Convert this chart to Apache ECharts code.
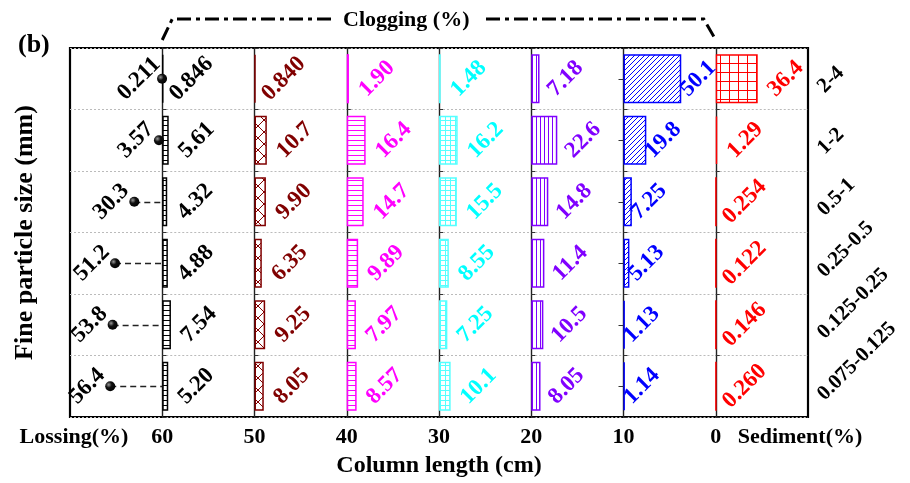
<!DOCTYPE html>
<html>
<head>
<meta charset="utf-8">
<script src="https://cdn.jsdelivr.net/npm/echarts@6/dist/echarts.min.js"></script>
<style>
  html, body { margin: 0; padding: 0; background: #fff; }
  #chart { width: 910px; height: 483px; }
</style>
</head>
<body>
<div id="chart"></div>
<script>
// ===== 数据 =====
const sizes = ['2-4', '1-2', '0.5-1', '0.25-0.5', '0.125-0.25', '0.075-0.125'];
const lossing = [0.211, 3.57, 30.3, 51.2, 53.8, 56.4];
const seg60to50 = [0.846, 5.61, 4.32, 4.88, 7.54, 5.20];
const seg50to40 = [0.840, 10.7, 9.90, 6.35, 9.25, 8.05];
const seg40to30 = [1.90, 16.4, 14.7, 9.89, 7.97, 8.57];
const seg30to20 = [1.48, 16.2, 15.5, 8.55, 7.25, 10.1];
const seg20to10 = [7.18, 22.6, 14.8, 11.4, 10.5, 8.05];
const seg10to0 = [50.1, 19.8, 7.25, 5.13, 1.13, 1.14];
const sediment = [36.4, 1.29, 0.254, 0.122, 0.146, 0.260];
const lengthTicks = [60, 50, 40, 30, 20, 10, 0];

// ===== 样式 =====
const FONT = 'Liberation Serif';
const PLOT = { left: 70, top: 48, width: 738, height: 369 };
const COL_W = PLOT.width / 8;
const LABEL_SIZE = 23;

// 每列：颜色 + 填充花纹
const COLUMNS = [
  { data: seg60to50, color: '#000000', line: '#000000', kind: 'h', size: 5, dist: 28 },
  { data: seg50to40, color: '#800000', line: '#800000', kind: 'x', size: 12, dist: 28 },
  { data: seg40to30, color: '#ff00ff', line: '#ff00ff', kind: 'h', size: 5, dist: 28 },
  { data: seg30to20, color: '#00ffff', line: '#55ffff', kind: 'hv', size: 5, dist: 28 },
  { data: seg20to10, color: '#8000ff', line: '#8000ff', kind: 'v', size: 4, dist: 26 },
  { data: seg10to0, color: '#0000ff', line: '#0000ff', kind: 'f', size: 5, dist: 17 },
  { data: sediment, color: '#ff0000', line: '#ff0000', kind: 'hv', size: 9, dist: 28 },
];

// 花纹贴图
function makeTile(kind, color, s) {
  const c = document.createElement('canvas');
  c.width = s; c.height = s;
  const g = c.getContext('2d');
  g.fillStyle = '#fff';
  g.fillRect(0, 0, s, s);
  g.strokeStyle = color;
  g.lineWidth = 1;
  g.beginPath();
  if (kind.includes('h')) { g.moveTo(0, 0.5); g.lineTo(s, 0.5); }
  if (kind.includes('v')) { g.moveTo(0.5, 0); g.lineTo(0.5, s); }
  if (kind === 'f' || kind === 'x') {
    g.moveTo(0, s); g.lineTo(s, 0);
    g.moveTo(-1, 1); g.lineTo(1, -1);
    g.moveTo(s - 1, s + 1); g.lineTo(s + 1, s - 1);
  }
  if (kind === 'x') {
    g.moveTo(0, 0); g.lineTo(s, s);
    g.moveTo(s - 1, -1); g.lineTo(s + 1, 1);
    g.moveTo(-1, s - 1); g.lineTo(1, s + 1);
  }
  g.stroke();
  return c;
}

const fmt3 = v => Number(v).toPrecision(3);

const grids = [];
const xAxes = [];
const yAxes = [];
for (let i = 0; i < 8; i++) {
  grids.push({
    left: PLOT.left + i * COL_W, top: PLOT.top, width: COL_W, height: PLOT.height,
    containLabel: false, outerBoundsMode: 'none',
  });
  xAxes.push(i === 0
    ? { gridIndex: 0, type: 'value', min: 0, max: 100, inverse: true, show: false }
    : { gridIndex: i, type: 'value', min: 0, max: 80, show: false });
  yAxes.push({
    gridIndex: i, type: 'category', data: sizes, inverse: true,
    axisLine: { show: i > 0, lineStyle: { color: '#222', width: 1.4 } },
    axisTick: { show: true, inside: true, length: 4, lineStyle: { color: '#333' } },
    axisLabel: { show: false },
    splitLine: { show: true, lineStyle: { type: [2, 2], color: '#bbb', width: 1 } },
  });
}
// 外框 + 底部长度轴 + 左右标签
grids.push({
  left: PLOT.left, top: PLOT.top, width: PLOT.width, height: PLOT.height,
  show: true, borderWidth: 2.2, borderColor: '#000', backgroundColor: 'transparent',
  containLabel: false, outerBoundsMode: 'none',
});
xAxes.push({
  gridIndex: 8, type: 'value', min: -10, max: 70, interval: 10, inverse: true,
  axisLine: { show: false }, axisTick: { show: false }, splitLine: { show: false },
  axisLabel: {
    showMinLabel: true, showMaxLabel: true, hideOverlap: false, margin: 9,
    fontFamily: FONT, fontWeight: 'bold', fontSize: 22, color: '#000',
    formatter: v => v === 70 ? '{l|Lossing(%)}' : v === -10 ? '{s|Sediment(%)}'
      : (lengthTicks.includes(v) ? String(v) : ''),
    rich: {
      l: { fontFamily: FONT, fontWeight: 'bold', fontSize: 22, padding: [0, 0, 0, 8] },
      s: { fontFamily: FONT, fontWeight: 'bold', fontSize: 22, padding: [0, 16, 0, 0] },
    },
  },
  name: 'Column length (cm)', nameLocation: 'middle', nameGap: 37,
  nameTextStyle: { fontFamily: FONT, fontWeight: 'bold', fontSize: 24, color: '#000' },
});
yAxes.push({
  gridIndex: 8, type: 'category', data: sizes, inverse: true, position: 'left',
  axisLine: { show: false }, axisTick: { show: false }, axisLabel: { show: false },
  name: 'Fine particle size (mm)', nameLocation: 'middle', nameGap: 32,
  nameTextStyle: { fontFamily: FONT, fontWeight: 'bold', fontSize: 26, color: '#000' },
});
yAxes.push({
  gridIndex: 8, type: 'category', data: sizes, inverse: true, position: 'right',
  axisLine: { show: false }, axisTick: { show: false },
  axisLabel: {
    rotate: 45, margin: 2, align: 'left', verticalAlign: 'top', padding: [5, 0, 0, 0],
    fontFamily: FONT, fontWeight: 'bold', fontSize: 21, color: '#000',
  },
});
// 20 cm 分界线上行中心的小刻度
yAxes.push({
  gridIndex: 5, type: 'category', data: sizes, inverse: true,
  axisLine: { show: false }, axisLabel: { show: false }, splitLine: { show: false },
  axisTick: { show: true, inside: true, alignWithLabel: true, length: 5, lineStyle: { color: '#333' } },
});

const series = [];
// 流失：黑点 + 虚线
series.push({
  type: 'scatter', xAxisIndex: 0, yAxisIndex: 0,
  data: lossing.map((v, i) => [v, i]),
  symbolSize: 10, z: 5,
  itemStyle: {
    opacity: 1,
    color: {
      type: 'radial', x: 0.35, y: 0.35, r: 0.75,
      colorStops: [{ offset: 0, color: '#999' }, { offset: 0.4, color: '#111' }, { offset: 1, color: '#000' }],
    },
  },
  label: {
    show: true, position: 'left', distance: 18, rotate: 45, align: 'center', verticalAlign: 'middle',
    fontFamily: FONT, fontWeight: 'bold', fontSize: LABEL_SIZE, color: '#000', opacity: 1,
    formatter: p => fmt3(p.value[0]),
  },
  markLine: {
    silent: true, symbol: ['none', 'none'], label: { show: false },
    lineStyle: { color: '#222', type: [6, 4], width: 1.3, opacity: 1 },
    data: lossing.map((v, i) => [{ coord: [v, i] }, { coord: [0, i] }]),
  },
});
COLUMNS.forEach((col, k) => {
  const idx = k + 1;
  series.push({
    type: 'bar', xAxisIndex: idx, yAxisIndex: idx,
    data: col.data, barWidth: '80%',
    itemStyle: {
      color: { image: makeTile(col.kind, col.line, col.size), repeat: 'repeat' },
      borderColor: col.line, borderWidth: 1.5,
    },
    label: {
      show: true, position: 'right', distance: col.dist, rotate: 45,
      align: 'center', verticalAlign: 'middle',
      fontFamily: FONT, fontWeight: 'bold', fontSize: LABEL_SIZE, color: col.color,
      formatter: p => fmt3(p.value),
    },
  });
});

const x1 = PLOT.left + COL_W;
const x7 = PLOT.left + 7 * COL_W;
const option = {
  animation: false,
  backgroundColor: '#fff',
  textStyle: { fontFamily: FONT },
  title: [
    { text: 'Clogging (%)', left: 338, top: 4,
      textStyle: { fontFamily: FONT, fontWeight: 'bold', fontSize: 22, color: '#000' } },
    { text: '(b)', left: 13, top: 27,
      textStyle: { fontFamily: FONT, fontWeight: 'bold', fontSize: 26, color: '#000' } },
  ],
  graphic: [
    { type: 'polyline', silent: true,
      shape: { points: [[x1, 40], [x1 + 10, 19], [332, 19]] },
      style: { stroke: '#000', lineWidth: 3, lineDash: [14, 5, 4, 5], fill: null } },
    { type: 'polyline', silent: true,
      shape: { points: [[486, 19], [x7 - 12, 19], [x7, 40]] },
      style: { stroke: '#000', lineWidth: 3, lineDash: [14, 5, 4, 5], fill: null } },
  ],
  grid: grids,
  xAxis: xAxes,
  yAxis: yAxes,
  series,
};

const chart = echarts.init(document.getElementById('chart'));
chart.setOption(option);
</script>
</body>
</html>
